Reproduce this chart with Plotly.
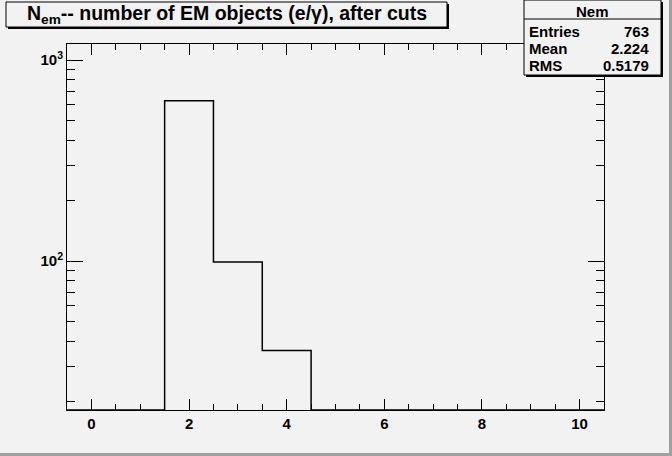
import plotly.graph_objects as go
import math

# ---- data ----
bin_centers = [0, 1, 2, 3, 4, 5, 6, 7, 8, 9, 10]
counts = [0, 0, 628, 99, 36, 0, 0, 0, 0, 0, 0]
hist_name = "Nem"
stat_labels = ["Entries", "Mean", "RMS"]
stat_values = ["763", "2.224", "0.5179"]
title_text = "N<sub>em</sub>-- number of EM objects (e/γ), after cuts"
y_tickvals = [100, 1000]
y_ticktext = ["10<sup>2</sup>", "10<sup>3</sup>"]
x_tickvals = [0, 2, 4, 6, 8, 10]
x_ticktext = ["0", "2", "4", "6", "8", "10"]

# ---- geometry ----
W, H = 669, 453          # canvas; 3px dark border shown via page background
L, R, T, B = 67, 604, 44, 410
y_lo, y_hi = 1.26, 3.08
bw = 1.0
bg = "#f2f2f2"
border = "#a0a0a0"
FONT = "Liberation Sans, Arial, sans-serif"

def px(x):
    return (x - L) / (R - L)

def py(y):
    return (B - y) / (B - T)

# histogram outline
floor = 10 ** y_lo
xs, ys = [], []
for c, n in zip(bin_centers, counts):
    v = n if n > 0 else floor
    xs += [c - bw / 2, c + bw / 2]
    ys += [v, v]

fig = go.Figure()
fig.add_trace(go.Scatter(x=xs, y=ys, mode="lines",
                         line=dict(color="black", width=1.5),
                         hoverinfo="skip", showlegend=False))

shapes = []
# title box with shadow
tb = (6, 2, 447, 27)
shapes.append(dict(type="rect", xref="paper", yref="paper",
                   x0=px(tb[0] + 2), x1=px(tb[2] + 2), y0=py(tb[3] + 2), y1=py(tb[1] + 2),
                   fillcolor="black", line=dict(width=0), layer="above"))
shapes.append(dict(type="rect", xref="paper", yref="paper",
                   x0=px(tb[0]), x1=px(tb[2]), y0=py(tb[3]), y1=py(tb[1]),
                   fillcolor=bg, line=dict(color="black", width=1), layer="above"))

# stats box with shadow
sb = (524, 0, 661, 75)
shapes.append(dict(type="rect", xref="paper", yref="paper",
                   x0=px(sb[0] + 2), x1=px(sb[2] + 2), y0=py(sb[3] + 2), y1=py(sb[1] + 2),
                   fillcolor="black", line=dict(width=0), layer="above"))
shapes.append(dict(type="rect", xref="paper", yref="paper",
                   x0=px(sb[0]), x1=px(sb[2]), y0=py(sb[3]), y1=py(sb[1]),
                   fillcolor=bg, line=dict(color="black", width=1), layer="above"))
shapes.append(dict(type="line", xref="paper", yref="paper",
                   x0=px(sb[0]), x1=px(sb[2]), y0=py(19), y1=py(19),
                   line=dict(color="black", width=1), layer="above"))

annotations = []
annotations.append(dict(text="<b>" + title_text + "</b>", xref="paper", yref="paper",
                        x=px((tb[0] + tb[2]) / 2), y=py((tb[1] + tb[3]) / 2),
                        xanchor="center", yanchor="middle", showarrow=False,
                        font=dict(family=FONT, size=19.5, color="black")))
annotations.append(dict(text="<b>" + hist_name + "</b>", xref="paper", yref="paper",
                        x=px((sb[0] + sb[2]) / 2), y=py(11),
                        xanchor="center", yanchor="middle", showarrow=False,
                        font=dict(family=FONT, size=15, color="black")))
row_y = [31, 48.5, 65.5]
for lab, val, ry in zip(stat_labels, stat_values, row_y):
    annotations.append(dict(text="<b>" + lab + "</b>", xref="paper", yref="paper",
                            x=px(527), y=py(ry), xanchor="left", yanchor="middle",
                            showarrow=False, font=dict(family=FONT, size=15, color="black")))
    annotations.append(dict(text="<b>" + val + "</b>", xref="paper", yref="paper",
                            x=px(651), y=py(ry), xanchor="right", yanchor="middle",
                            showarrow=False, font=dict(family=FONT, size=15, color="black")))

fig.update_layout(
    width=W, height=H,
    margin=dict(l=L, r=W - R, t=T, b=H - B, pad=0),
    paper_bgcolor=bg, plot_bgcolor=bg,
    showlegend=False,
    shapes=shapes, annotations=annotations,
    font=dict(family=FONT, color="black"),
)
fig.update_xaxes(range=[-0.5, 10.5], showgrid=False, zeroline=False,
                 showline=True, linecolor="black", linewidth=1, mirror="allticks",
                 ticks="inside", ticklen=11, tickcolor="black", tickwidth=1,
                 tickvals=x_tickvals, ticktext=["<b>" + t + "</b>" for t in x_ticktext],
                 tickfont=dict(family=FONT, size=15, color="black"),
                 minor=dict(dtick=0.5, ticks="inside", ticklen=6, tickcolor="black",
                            tickwidth=1, showgrid=False))
fig.update_yaxes(type="log", range=[y_lo, y_hi], showgrid=False, zeroline=False,
                 showline=True, linecolor="black", linewidth=1, mirror="allticks",
                 ticks="inside", ticklen=16, tickcolor="black", tickwidth=1,
                 tickvals=y_tickvals, ticktext=["<b>" + t + "</b>" for t in y_ticktext],
                 tickfont=dict(family=FONT, size=15, color="black"),
                 minor=dict(dtick="D1", ticks="inside", ticklen=8, tickcolor="black",
                            tickwidth=1, showgrid=False))

fig.write_html("out.html", config={"displayModeBar": False},
               post_script="document.body.style.margin='0';document.body.style.background='%s';" % border)
